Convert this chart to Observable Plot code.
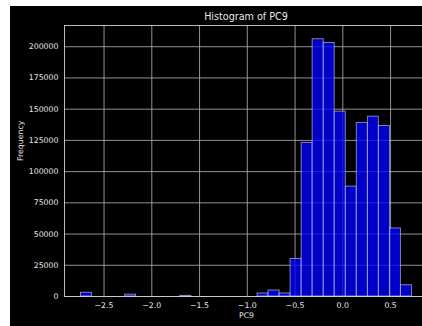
<!DOCTYPE html>
<html>
<head>
<meta charset="utf-8">
<script src="https://cdn.jsdelivr.net/npm/d3@7"></script>
<script src="https://cdn.jsdelivr.net/npm/@observablehq/plot@0.6"></script>
<style>
  html, body { margin: 0; padding: 0; background: #fff; width: 422px; height: 326px; overflow: hidden; }
  #panel { position: absolute; left: 10px; top: 6px; width: 412px; height: 320px; background: #000; }
  #title { position: absolute; left: 146px; width: 200px; top: 11px; text-align: center;
           font: 9.6px "DejaVu Sans", sans-serif; color: #e8e8e8; line-height: 12px; }
  #chart { position: absolute; left: 0; top: 22px; width: 422px; height: 304px; }
  #chart svg { max-width: none; overflow: hidden; }
</style>
</head>
<body>
<div id="panel"></div>
<div id="title">Histogram of PC9</div>
<div id="chart"></div>
<script>
// Bin edges of the PC9 histogram (30 equal bins)
const binEdges = [
  -2.741, -2.626, -2.510, -2.395, -2.279, -2.164, -2.048, -1.933, -1.817, -1.702,
  -1.586, -1.471, -1.355, -1.240, -1.124, -1.009, -0.893, -0.778, -0.662, -0.547,
  -0.431, -0.316, -0.200, -0.085, 0.031, 0.146, 0.262, 0.377, 0.493, 0.608, 0.724
];
// Counts per bin
const frequencies = [
  3000, 0, 0, 0, 1500, 0, 0, 0, 0, 500,
  0, 0, 0, 0, 0, 0, 2400, 4800, 2400, 30000,
  123000, 206000, 203000, 148000, 88000, 139000, 144000, 136500, 54500, 9000
];
const xTicks = [-2.5, -2.0, -1.5, -1.0, -0.5, 0.0, 0.5];
const yTicks = [0, 25000, 50000, 75000, 100000, 125000, 150000, 175000, 200000];
const xDomain = [-2.914, 0.897];
const yDomain = [0, 217000];

const bins = frequencies
  .map((count, i) => ({x1: binEdges[i], x2: binEdges[i + 1], count}))
  .filter(d => d.count > 0);

const fmtX = d3.format(".1f");
const grid = "#b4b4b4";
const ink = "#e6e6e6";
const spine = "#d0d0d0";

// The axes run past the right edge of the window; only the left, top and bottom spines show.
const chart = Plot.plot({
  width: 422,
  height: 304,
  marginLeft: 64,
  marginRight: 0,
  marginTop: 3,
  marginBottom: 30,
  style: {background: "transparent", fontFamily: "DejaVu Sans, sans-serif", fontSize: "7.8px", color: ink},
  x: {domain: xDomain, range: [64, 428]},
  y: {domain: yDomain},
  marks: [
    Plot.gridX(xTicks, {stroke: grid, strokeOpacity: 0.9, strokeWidth: 0.9}),
    Plot.gridY(yTicks, {stroke: grid, strokeOpacity: 0.9, strokeWidth: 0.9}),
    Plot.rectY(bins, {x1: "x1", x2: "x2", y: "count", fill: "#0000ff", fillOpacity: 0.78,
                      stroke: "#ffffff", strokeOpacity: 0.55, strokeWidth: 0.9}),
    Plot.ruleY([yDomain[0], yDomain[1]], {stroke: spine, strokeWidth: 0.9}),
    Plot.ruleX([xDomain[0]], {stroke: spine, strokeWidth: 0.9}),
    Plot.axisX(xTicks, {tickSize: 0, tickPadding: 6, tickFormat: fmtX, label: null, fill: ink}),
    Plot.axisY(yTicks, {tickSize: 0, tickPadding: 6, tickFormat: d => String(d), label: null, fill: ink}),
    Plot.text(["PC9"], {frameAnchor: "bottom", dx: 3, dy: 21, fill: ink, fontSize: 7.8}),
    Plot.text(["Frequency"], {frameAnchor: "left", dx: -44, rotate: -90, fill: ink, fontSize: 7.8})
  ]
});
document.getElementById("chart").appendChild(chart);
</script>
</body>
</html>
